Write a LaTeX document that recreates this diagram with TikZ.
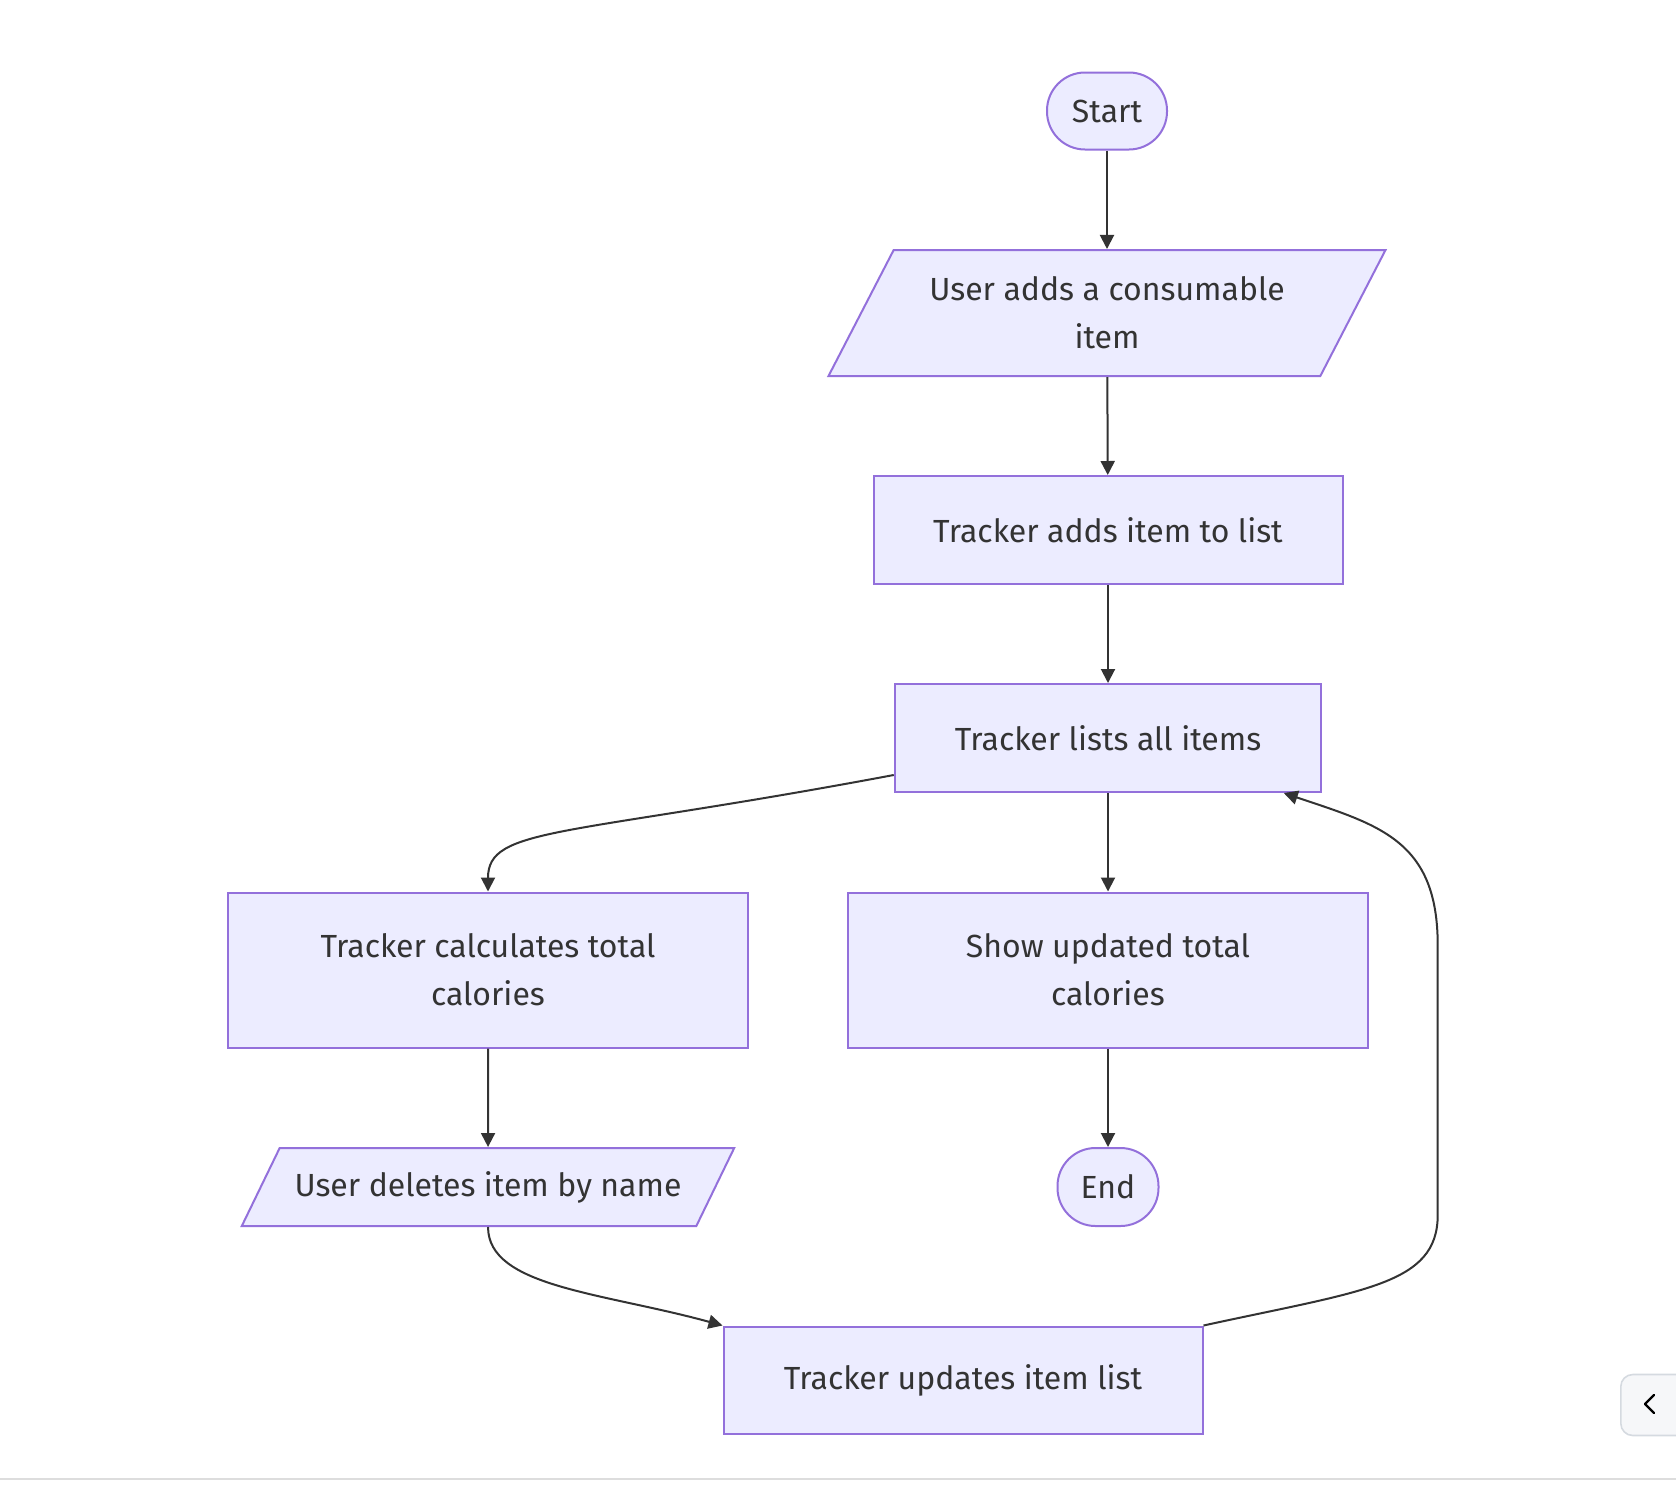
\documentclass[tikz,border=0pt]{standalone}
\usepackage{fontspec}
\setmainfont{Fira Sans}
\usepackage{tikz}
\usetikzlibrary{arrows.meta, shapes.geometric}
\definecolor{nodefill}{HTML}{ECECFF}
\definecolor{nodeline}{HTML}{9370DB}
\definecolor{edgeline}{HTML}{333333}
\definecolor{textcol}{HTML}{333333}
\definecolor{btnfill}{HTML}{F6F7F9}
\definecolor{btnline}{HTML}{D5DAE0}
\definecolor{rulegray}{HTML}{DDDDDD}

\begin{document}
\begin{tikzpicture}[x=0.5pt, y=-0.5pt,
  process/.style={rectangle, draw=nodeline, fill=nodefill, line width=1pt,
    text=textcol, align=center, inner sep=0pt, minimum height=54pt},
  %
  io/.style={trapezium, trapezium left angle=48, trapezium right angle=132,
    trapezium stretches body=true, draw=nodeline, fill=nodefill, line width=1pt,
    text=textcol, align=center, inner sep=0pt},
  %
  terminal/.style={rectangle, rounded corners=19pt, draw=nodeline,
    fill=nodefill, line width=1pt, text=textcol, minimum height=38.5pt},
  %
  flow/.style={-{Triangle[length=7pt,width=7pt]}, draw=edgeline, line width=1pt}
  ]

  \tikzset{every node/.style={font=\fontsize{16pt}{24pt}\selectfont}}
  \useasboundingbox (0,0) rectangle (1676,1510);

  \begin{scope}
    \node [terminal, minimum width=60pt] (start) at (1107,111) {Start};
    \node [io, minimum width=278.5pt, minimum height=63pt] (addinput)
      at (1107,313) {User adds a consumable\\item};
    \node [process, minimum width=234.5pt] (additem) at (1108,530)
      {Tracker adds item to list};
    \node [process, minimum width=213.25pt] (listall) at (1108,738)
      {Tracker lists all items};
    \node [process, minimum width=260.25pt, minimum height=77.5pt] (calctotal)
      at (488,970) {Tracker calculates total\\calories};
    \node [process, minimum width=260.25pt, minimum height=77.5pt] (showtotal)
      at (1108,970) {Show updated total\\calories};
    \node [io, trapezium left angle=40, trapezium right angle=140,
      minimum width=246.2pt, minimum height=39pt] (delinput)
      at (488,1187) {User deletes item by name};
    \node [terminal, minimum width=50.5pt, minimum height=39pt] (stop)
      at (1108,1187) {End};
    \node [process, minimum width=239.5pt, minimum height=53.5pt] (updlist)
      at (963,1380) {Tracker updates item list};
  \end{scope}

  \begin{scope}
    \coordinate (loopbot) at (1437.7,1215);
    \coordinate (looptop) at (1437.7,945);
    \draw [flow] (start) -- (addinput);
    \draw [flow] (addinput) -- (additem);
    \draw [flow] (additem) -- (listall);
    \draw [flow] ([yshift=9pt]listall.south west)
      .. controls +(-330,62) and +(0,-65) .. (calctotal.north);
    \draw [flow] (listall) -- (showtotal);
    \draw [flow] (calctotal) -- (delinput);
    \draw [flow] (showtotal) -- (stop);
    \draw [flow] (delinput.south)
      .. controls +(0,60) and +(-120,-33) .. (updlist.north west);
    \draw [flow] (updlist.north east)
      .. controls +(160,-35) and +(0,70) .. (loopbot) -- (looptop)
      .. controls +(0,-105) and +(95,32) .. ([xshift=-19.25pt]listall.south east);
  \end{scope}

  % page chrome
  \draw [rulegray, line width=1pt] (0,1479) -- (1676,1479);
  \node [draw=btnline, fill=btnfill, line width=0.8pt, rounded corners=6pt,
    minimum width=40pt, minimum height=30.5pt, anchor=west] (sidebtn)
    at (1620,1405) {};
  \draw [black, line width=1.1pt, line cap=round, line join=round]
    (1654,1395) -- (1645,1404) -- (1654,1413);

\end{tikzpicture}
\end{document}
